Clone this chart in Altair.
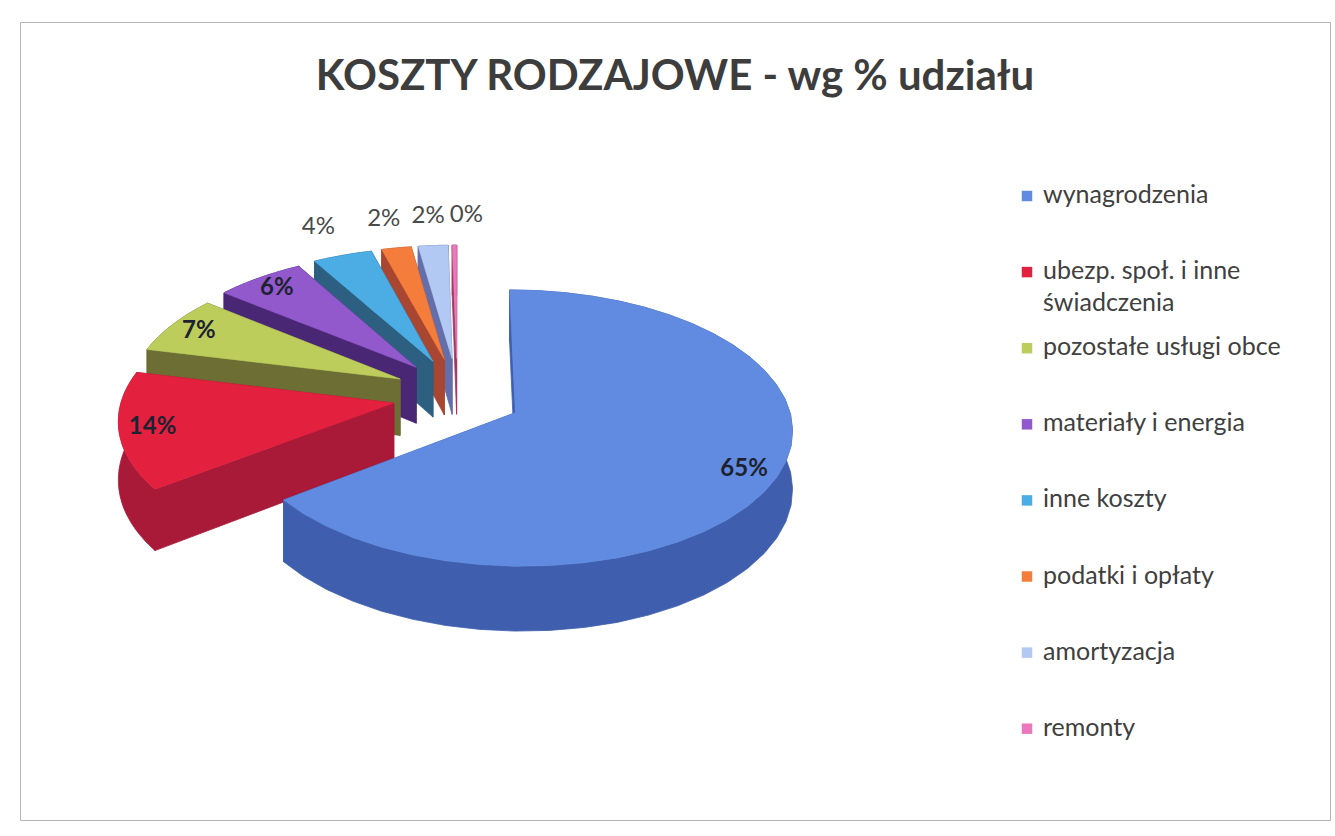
import altair as alt
import pandas as pd

# ---------------- data ----------------
categories = [
    "wynagrodzenia",
    "ubezp. społ. i inne świadczenia",
    "pozostałe usługi obce",
    "materiały i energia",
    "inne koszty",
    "podatki i opłaty",
    "amortyzacja",
    "remonty",
]
legend_text = [
    "wynagrodzenia",
    "ubezp. społ. i inne\nświadczenia",
    "pozostałe usługi obce",
    "materiały i energia",
    "inne koszty",
    "podatki i opłaty",
    "amortyzacja",
    "remonty",
]
values = [65, 14, 7, 6, 4, 2, 2, 0.3]

# ---------------- style ----------------
top_colors = ["#618be0", "#e3213f", "#bccd5c", "#9159cc", "#4cace4", "#f47d3c", "#b2c9f3", "#ea78bd"]
side_colors = ["#3f5fae", "#a81a38", "#6c6e34", "#4a2775", "#2c5f80", "#a84632", "#646eaa", "#a0385f"]

W, H = 1310, 798
PIE_CX, PIE_CY = 437.2, 373.5      # pie centre inside the view (px)
RX, RY = 271.5, 133.0              # ellipse radii
DEPTH = 57.0                       # extrusion height
PERSP = 0.11                       # perspective factor
EXPLODE = 0.237                    # explosion (fraction of radius)
EXPLODE_Y = 1.2                    # extra vertical explosion (perspective)
R_IN, R_OUT = 0.88, 1.3            # label radii
N = 36                             # rim samples per slice
LEG_X = 569.8                      # legend column (relative to pie centre)
LEG_Y0, LEG_STEP = -199.5, 76.1    # legend rows (relative to pie centre)
FONT = "Lato"

df = pd.DataFrame({
    "idx": list(range(len(categories))),
    "cat": categories,
    "legend_text": legend_text,
    "value": values,
})

xscale = alt.Scale(domain=[-PIE_CX, W - PIE_CX], nice=False, zero=False)
yscale = alt.Scale(domain=[-PIE_CY, H - PIE_CY], nice=False, zero=False, reverse=True)


def gexp(z):
    return f"(1/(1+{PERSP}*({z})))"


calcs = {}
calcs["share"] = "datum.value/datum.total"
calcs["a2"] = "2*PI*datum.cum/datum.total"
calcs["a1"] = "datum.a2-2*PI*datum.share"
calcs["m"] = "(datum.a1+datum.a2)/2"
calcs["vx"] = f"{EXPLODE}*sin(datum.m)"
calcs["vz"] = f"{EXPLODE}*cos(datum.m)"
calcs["vzy"] = f"{EXPLODE * EXPLODE_Y}*cos(datum.m)"
vg = gexp("datum.vz")
calcs["v_x"] = f"round({RX}*datum.vx*{vg}*10)/10"
calcs["v_t"] = f"round((-{RY}*datum.vzy)*{vg}*10)/10"
calcs["v_b"] = f"round((-{RY}*datum.vzy+{DEPTH})*{vg}*10)/10"
for i in range(N + 1):
    ang = f"(datum.a1+(datum.a2-datum.a1)*{i / N:.5f})"
    X = f"(datum.vx+sin({ang}))"
    Zd = f"(datum.vz+cos({ang}))"
    Zy = f"(datum.vzy+cos({ang}))"
    g = gexp(Zd)
    calcs[f"px{i}"] = f"round({RX}*{X}*{g}*10)/10"
    calcs[f"pt{i}"] = f"round((-{RY}*{Zy})*{g}*10)/10"
    calcs[f"pb{i}"] = f"round((-{RY}*{Zy}+{DEPTH})*{g}*10)/10"


def pt(xf, yf, cmd):
    return [f"'{cmd}'", f"datum.{xf}", "' '", f"datum.{yf}"]


top = pt("v_x", "v_t", "M")
for i in range(N + 1):
    top += pt(f"px{i}", f"pt{i}", " L")
top += ["' Z'"]

wall = pt("px0", "pt0", "M")
for i in range(1, N + 1):
    wall += pt(f"px{i}", f"pt{i}", " L")
for i in range(N, -1, -1):
    wall += pt(f"px{i}", f"pb{i}", " L")
wall += ["' Z'"]


def cut(i):
    return (pt("v_x", "v_t", "M") + pt(f"px{i}", f"pt{i}", " L")
            + pt(f"px{i}", f"pb{i}", " L") + pt("v_x", "v_b", " L") + ["' Z'"])


calcs["top_path"] = " + ".join(top)
calcs["wall"] = " + ".join(wall)
calcs["cut1"] = " + ".join(cut(0))
calcs["cut2"] = " + ".join(cut(N))

# label positions
calcs["inside"] = "datum.share >= 0.05"
calcs["rl"] = f"datum.inside ? {R_IN} : {R_OUT}"
calcs["lX"] = "datum.vx + datum.rl*sin(datum.m)"
calcs["lZ"] = "datum.vz + datum.rl*cos(datum.m)"
calcs["lZy"] = "datum.vzy + datum.rl*cos(datum.m)"
calcs["lx"] = f"{RX}*datum.lX*{gexp('datum.lZ')}"
calcs["ly"] = f"-{RY}*datum.lZy*{gexp('datum.lZ')}"
calcs["plabel"] = "format(datum.share, '.0%')"
# legend rows
calcs["legpos"] = f"{LEG_Y0} + datum.idx*{LEG_STEP}"

base = alt.Chart()

side_color = alt.Color("cat:N", scale=alt.Scale(domain=categories, range=side_colors), legend=None)
top_color = alt.Color("cat:N", scale=alt.Scale(domain=categories, range=top_colors), legend=None)
X0 = alt.XDatum(0, type="quantitative", scale=xscale, axis=None)
Y0 = alt.YDatum(0, type="quantitative", scale=yscale, axis=None)

sides = base.transform_fold(["wall", "cut1", "cut2"], as_=["part", "spath"]).mark_point(
    filled=True, opacity=1, size=4, strokeWidth=0.8
).encode(
    x=X0, y=Y0,
    shape=alt.Shape("spath:N", scale=None, legend=None),
    color=side_color,
    stroke=alt.Stroke("cat:N", scale=alt.Scale(domain=categories, range=side_colors), legend=None),
    order=alt.Order("vz:Q", sort="descending"),
)

tops = base.mark_point(filled=True, opacity=1, size=4, strokeWidth=0.6).encode(
    x=X0, y=Y0,
    shape=alt.Shape("top_path:N", scale=None, legend=None),
    color=top_color,
    stroke=alt.Stroke("cat:N", scale=alt.Scale(domain=categories, range=top_colors), legend=None),
    order=alt.Order("vz:Q", sort="descending"),
)

label_enc = dict(
    x=alt.X("lx:Q", scale=xscale, axis=None),
    y=alt.Y("ly:Q", scale=yscale, axis=None),
    text=alt.Text("plabel:N"),
)
labels_in = base.transform_filter("datum.share >= 0.05").mark_text(
    font=FONT, fontSize=24, fontWeight="bold", baseline="middle", align="center", color="#1e2230"
).encode(**label_enc)
labels_out = base.transform_filter("datum.share >= 0.005 && datum.share < 0.05").mark_text(
    font=FONT, fontSize=24, baseline="middle", align="center", color="#4a4a4a"
).encode(**label_enc)
labels_tiny = base.transform_filter("datum.share < 0.005").mark_text(
    font=FONT, fontSize=24, baseline="middle", align="left", dx=-4, color="#4a4a4a"
).encode(**label_enc)

LX = alt.XDatum(LEG_X, type="quantitative", scale=xscale, axis=None)
LY = alt.Y("legpos:Q", scale=yscale, axis=None)
leg_sq = base.mark_square(size=110, opacity=1).encode(
    x=LX, y=LY,
    color=alt.Color("cat:N", scale=alt.Scale(domain=categories, range=top_colors), legend=None),
)
leg_txt = base.mark_text(
    font=FONT, fontSize=25, align="left", baseline="alphabetic", dx=16, dy=7,
    lineBreak="\n", lineHeight=32, color="#404040",
).encode(x=LX, y=LY, text="legend_text:N")

chart = alt.layer(sides, tops, labels_in, labels_out, labels_tiny, leg_sq, leg_txt, data=df).transform_joinaggregate(
    total="sum(value)"
).transform_window(
    cum="sum(value)", sort=[alt.SortField("idx")], frame=[None, 0]
)
for k, v in calcs.items():
    chart = chart.transform_calculate(**{k: v})

chart = chart.resolve_scale(color="independent", stroke="independent").properties(
    width=W,
    height=H,
    padding={"left": 20, "top": 22, "right": 5, "bottom": 16},
    autosize=alt.AutoSizeParams(type="none"),
    title=alt.TitleParams(
        text="KOSZTY RODZAJOWE - wg % udziału",
        font=FONT, fontSize=42, fontWeight="bold", color="#3d3d3d",
        anchor="middle", frame="group", offset=-110, baseline="alphabetic",
    ),
).configure_view(stroke="#b5b5b5", strokeWidth=1)

chart.save("out.html", embed_options={"renderer": "svg", "actions": False})
